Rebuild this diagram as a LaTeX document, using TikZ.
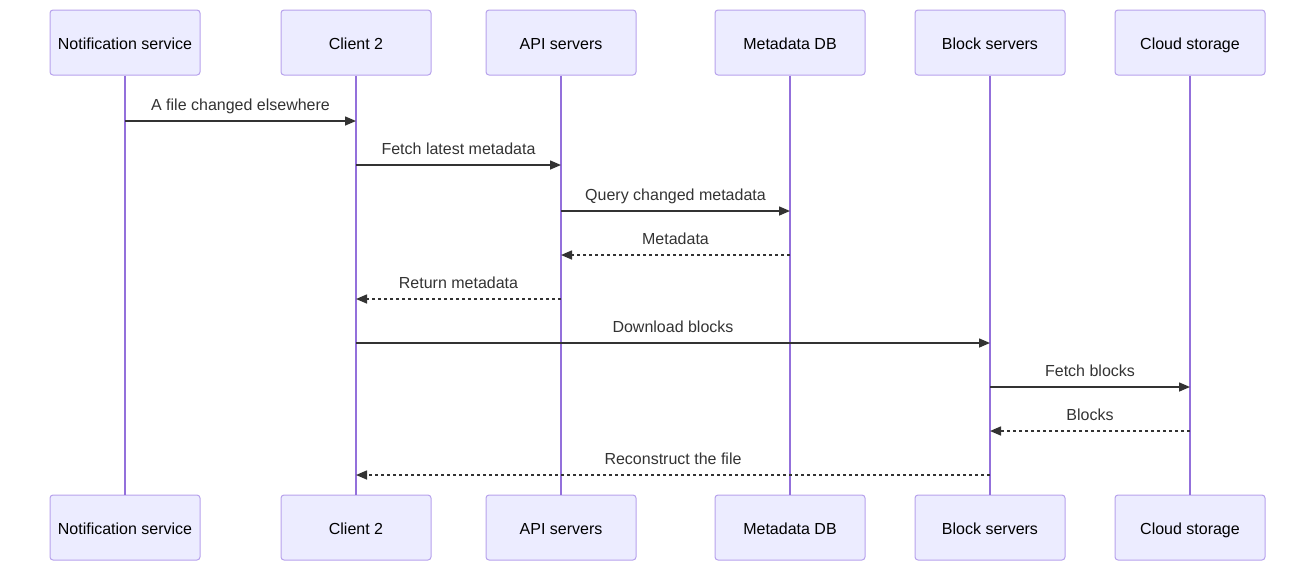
\documentclass[tikz,border=0pt]{standalone}
\usepackage{fontspec}
\setmainfont{Liberation Sans}
\usetikzlibrary{arrows.meta}
\definecolor{boxfill}{HTML}{ECECFF}
\definecolor{boxline}{HTML}{B7A2EC}
\definecolor{life}{HTML}{9370DB}
\definecolor{msg}{HTML}{333333}
\begin{document}
\begin{tikzpicture}[x=1pt,y=-1pt,
  actor/.style={draw=boxline,fill=boxfill,line width=1pt,rounded corners=3pt,minimum width=150pt,minimum height=65pt,inner sep=0pt,text height=13pt,text depth=0pt,font=\fontsize{16pt}{19pt}\selectfont,text=black},
  lifeline/.style={draw=life,line width=1.5pt},
  msgline/.style={draw=msg,line width=1.5pt,-{Triangle[length=11pt,width=9pt]}},
  reply/.style={msgline,dash pattern=on 3pt off 3pt},
  lbl/.style={font=\fontsize{16pt}{19pt}\selectfont,text=msg,inner sep=0pt,text height=11.5pt,text depth=3.5pt}]
\useasboundingbox (0,0) rectangle (1315,571);
% top actors
\node[actor] (nT) at (125,42.5) {Notification service};
\node[actor] (cT) at (356,42.5) {Client 2};
\node[actor] (aT) at (561,42.5) {API servers};
\node[actor] (mT) at (790,42.5) {Metadata DB};
\node[actor] (bT) at (990,42.5) {Block servers};
\node[actor] (sT) at (1190,42.5) {Cloud storage};
% bottom actors
\node[actor] (nB) at (125,527.5) {Notification service};
\node[actor] (cB) at (356,527.5) {Client 2};
\node[actor] (aB) at (561,527.5) {API servers};
\node[actor] (mB) at (790,527.5) {Metadata DB};
\node[actor] (bB) at (990,527.5) {Block servers};
\node[actor] (sB) at (1190,527.5) {Cloud storage};
% lifelines
\foreach \a in {n,c,a,m,b,s} {\draw[lifeline] (\a T.south) -- (\a B.north);}
% message anchors
\foreach \a in {n,c,a,m,b,s} {
  \foreach \y/\k in {121/1,165/2,211/3,255/4,299/5,343/6,387/7,431/8,475/9} {
    \coordinate (\a\k) at (\a T.south |- 0,\y);
  }
}
\draw[msgline] (n1) -- node[lbl,above=6pt] {A file changed elsewhere} (c1);
\draw[msgline] (c2) -- node[lbl,above=6pt] {Fetch latest metadata} (a2);
\draw[msgline] (a3) -- node[lbl,above=6pt] {Query changed metadata} (m3);
\draw[reply] (m4) -- node[lbl,above=6pt] {Metadata} (a4);
\draw[reply] (a5) -- node[lbl,above=6pt] {Return metadata} (c5);
\draw[msgline] (c6) -- node[lbl,above=6pt] {Download blocks} (b6);
\draw[msgline] (b7) -- node[lbl,above=6pt] {Fetch blocks} (s7);
\draw[reply] (s8) -- node[lbl,above=6pt] {Blocks} (b8);
\draw[reply] (b9) -- node[lbl,above=6pt] {Reconstruct the file} (c9);
\end{tikzpicture}
\end{document}
